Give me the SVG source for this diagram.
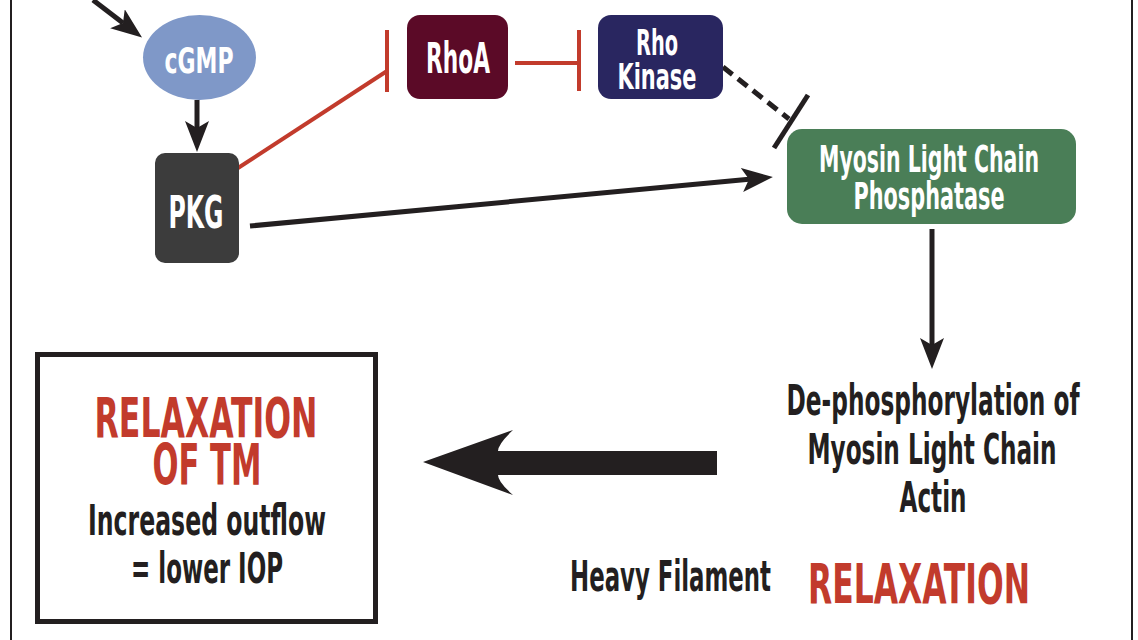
<svg xmlns="http://www.w3.org/2000/svg" width="1138" height="640" viewBox="0 0 1138 640">
<style>
text{font-family:"Liberation Sans Narrow","DejaVu Sans Condensed","Liberation Sans",sans-serif;font-weight:bold}
.w{fill:#ffffff;text-anchor:middle}
.d{fill:#231f20}
.r{fill:#c23b2c}
.m{text-anchor:middle}
.blk{stroke:#231f20;stroke-width:5;fill:none}
.red{stroke:#c23b2c;stroke-width:4;fill:none}
</style>
<defs>
<marker id="ah" viewBox="0 0 31 24" refX="7" refY="12" markerWidth="31" markerHeight="24" markerUnits="userSpaceOnUse" orient="auto">
<path d="M0,0 L31,12 L0,24 L7,12 Z" fill="#231f20"/>
</marker>
</defs>
<rect width="1138" height="640" fill="#ffffff"/>
<g id="frame">
<line x1="11" y1="0" x2="11" y2="640" stroke="#231f20" stroke-width="2"/>
<line x1="1132" y1="0" x2="1132" y2="640" stroke="#231f20" stroke-width="2"/>
</g>
<g id="connectors">
<line class="blk" x1="93" y1="0" x2="123" y2="23" marker-end="url(#ah)"/>
<line class="blk" x1="197" y1="100" x2="197" y2="128" marker-end="url(#ah)"/>
<line class="blk" x1="250" y1="226" x2="749" y2="179.3" marker-end="url(#ah)"/>
<line class="blk" x1="932" y1="229" x2="932" y2="345" marker-end="url(#ah)"/>
<line class="red" x1="238" y1="168" x2="387" y2="71"/>
<line class="red" x1="387" y1="30" x2="387" y2="92" stroke-width="5"/>
<line class="red" x1="515" y1="63" x2="579" y2="63"/>
<line class="red" x1="579" y1="30" x2="579" y2="91" stroke-width="5"/>
<line class="blk" x1="723" y1="67" x2="789" y2="119" stroke-dasharray="12 7"/>
<line class="blk" x1="808" y1="95" x2="774" y2="148"/>
<path d="M423,462 L513,430 Q498,444 498,451 L717,451 L717,475 L498,475 Q498,482 513,495 Z" fill="#231f20"/>
</g>
<g id="cGMP">
<ellipse cx="199.5" cy="57.5" rx="56.5" ry="42.5" fill="#7f98c8"/>
<text class="w" transform="translate(199,73) scale(1,1.22)" font-size="29.5" textLength="69" lengthAdjust="spacingAndGlyphs">cGMP</text>
</g>
<g id="PKG">
<rect x="155" y="153" width="84" height="110" rx="10" fill="#3c3c3c"/>
<text class="w" transform="translate(196,228) scale(1,1.45)" font-size="31" textLength="55" lengthAdjust="spacingAndGlyphs">PKG</text>
</g>
<g id="RhoA">
<rect x="407" y="15" width="101" height="84" rx="13" fill="#5b0a27"/>
<text class="w" transform="translate(458,73) scale(1,1.43)" font-size="29.4" textLength="64" lengthAdjust="spacingAndGlyphs">RhoA</text>
</g>
<g id="RhoKinase">
<rect x="598" y="15" width="125" height="84" rx="13" fill="#292660"/>
<text class="w" transform="translate(657,55) scale(1,1.33)" font-size="26.3" textLength="42" lengthAdjust="spacingAndGlyphs">Rho</text>
<text class="w" transform="translate(657,89) scale(1,1.19)" font-size="29.4" textLength="79" lengthAdjust="spacingAndGlyphs">Kinase</text>
</g>
<g id="MLCP">
<rect x="787" y="129" width="289" height="95" rx="15" fill="#4a7e57"/>
<text class="w" transform="translate(929,172) scale(1,1.27)" font-size="29.1" textLength="220" lengthAdjust="spacingAndGlyphs">Myosin Light Chain</text>
<text class="w" transform="translate(929,209) scale(1,1.25)" font-size="29.6" textLength="151" lengthAdjust="spacingAndGlyphs">Phosphatase</text>
</g>
<g id="dephos">
<text class="d m" transform="translate(933,415) scale(1,1.25)" font-size="33.6" textLength="293" lengthAdjust="spacingAndGlyphs">De-phosphorylation of</text>
<text class="d m" transform="translate(932,464) scale(1,1.28)" font-size="32.8" textLength="249" lengthAdjust="spacingAndGlyphs">Myosin Light Chain</text>
<text class="d m" transform="translate(933,512) scale(1,1.28)" font-size="32.8" textLength="67" lengthAdjust="spacingAndGlyphs">Actin</text>
</g>
<g id="result">
<rect x="37.5" y="354.5" width="338" height="267" fill="none" stroke="#231f20" stroke-width="5"/>
<text class="r m" transform="translate(206,437) scale(1,1.33)" font-size="42" textLength="223" lengthAdjust="spacingAndGlyphs">RELAXATION</text>
<text class="r m" transform="translate(207,485) scale(1,1.32)" font-size="42.5" textLength="109" lengthAdjust="spacingAndGlyphs">OF TM</text>
<text class="d m" transform="translate(207,535) scale(1,1.23)" font-size="34" textLength="238" lengthAdjust="spacingAndGlyphs">Increased outflow</text>
<text class="d m" transform="translate(207,583) scale(1,1.25)" font-size="33.6" textLength="152" lengthAdjust="spacingAndGlyphs">= lower IOP</text>
</g>
<g id="heavy">
<text class="d" transform="translate(570,591) scale(1,1.26)" font-size="33.4" textLength="201" lengthAdjust="spacingAndGlyphs">Heavy Filament</text>
</g>
<g id="relax">
<text class="r" transform="translate(808,603) scale(1,1.33)" font-size="42" textLength="222" lengthAdjust="spacingAndGlyphs">RELAXATION</text>
</g>
</svg>
